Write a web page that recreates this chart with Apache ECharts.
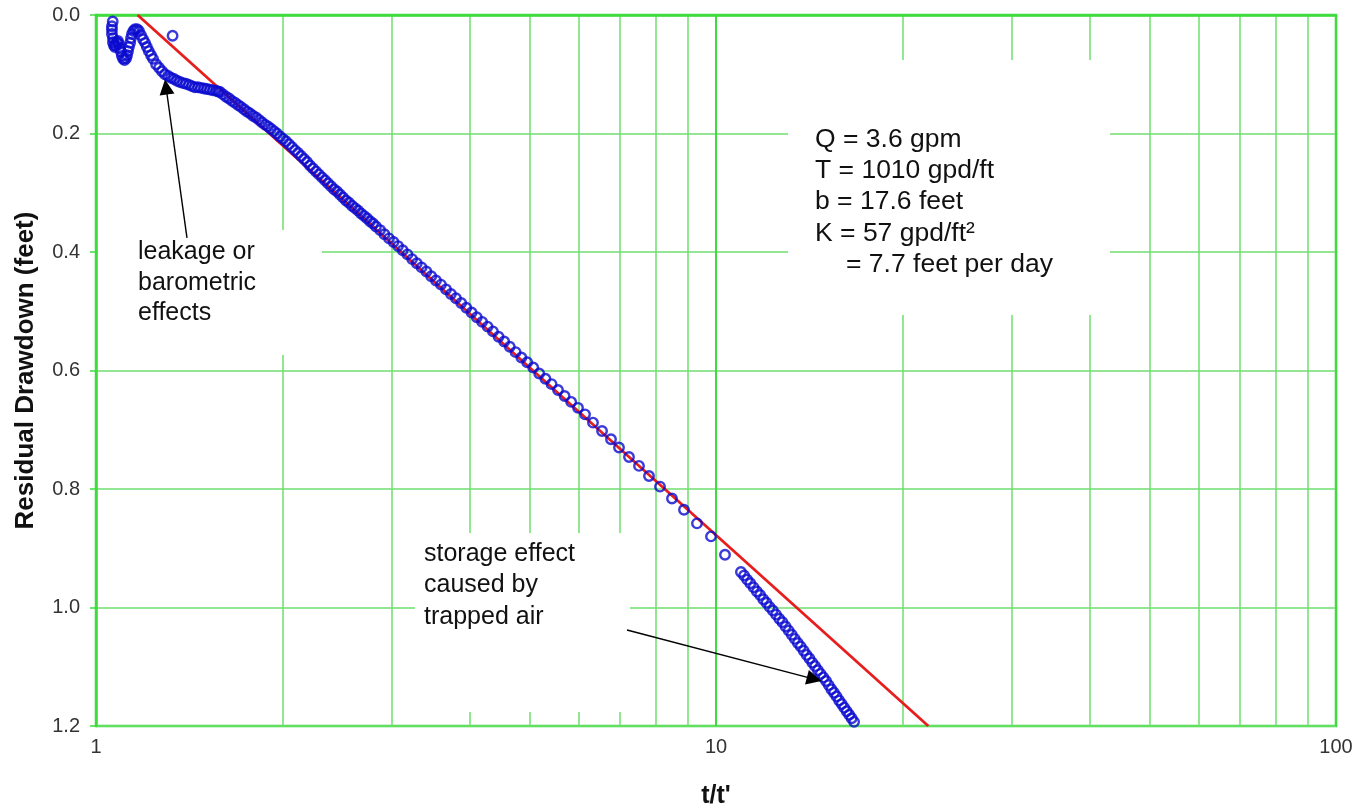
<!DOCTYPE html>
<html>
<head>
<meta charset="utf-8">
<script src="https://cdn.jsdelivr.net/npm/echarts@6/dist/echarts.min.js"></script>
<style>
html,body{margin:0;padding:0;background:#fff;}
#chart{width:1357px;height:809px;}
</style>
</head>
<body>
<div id="chart"></div>
<script>
// t/t' values of the recovery measurements
const ratio = [
1.064,1.061,1.061,1.061,1.065,1.065,1.069,1.073,1.077,1.081,1.085,1.089,1.093,1.097,1.101,1.106,1.112,1.118,1.122,1.126,1.130,1.135,1.139,1.143,1.149,1.156,1.165,1.173,1.182,1.191,1.200,1.208,1.217,1.227,1.236,1.250,1.264,1.278,1.292,1.307,1.321,1.329,1.336,1.351,1.366,1.382,1.397,1.413,1.428,1.444,1.461,1.477,1.494,1.510,1.527,1.544,1.562,1.574,
1.585,1.603,1.621,1.639,1.657,1.676,1.695,1.713,1.733,1.752,1.772,1.791,1.812,1.832,1.852,1.873,1.894,1.915,1.937,1.958,1.981,2.003,2.025,2.048,2.071,2.094,2.118,2.142,2.166,2.190,2.214,2.239,2.264,2.289,2.315,2.341,2.367,2.394,2.421,2.448,2.475,2.503,2.531,2.559,2.588,2.617,2.646,2.676,2.706,2.736,2.767,2.798,2.829,
2.872,2.919,2.969,3.019,3.070,3.124,3.179,3.235,3.292,3.351,3.411,3.473,3.535,3.601,3.669,3.737,3.807,3.882,3.957,4.035,4.113,4.196,4.282,4.368,4.460,4.554,4.649,4.751,4.854,4.960,5.072,5.186,5.307,5.430,5.561,5.699,5.840,5.990,6.148,6.333,6.549,6.771,6.975,7.239,7.513,7.797,8.123,8.492,8.879,9.318,9.816,10.340,
10.97,11.1,11.23,11.36,11.5,11.64,11.78,11.92,12.06,12.2,12.35,12.5,12.65,12.8,12.95,13.1,13.25,13.4,13.55,13.7,13.85,14.0,14.15,14.3,14.45,14.6,14.75,14.9,15.05,15.2,15.35,15.5,15.65,15.8,15.95,16.1,16.25,16.4,16.55,16.7
];
// residual drawdown (feet)
const drawdown = [
0.011,0.019,0.025,0.032,0.039,0.046,0.051,0.054,0.051,0.046,0.044,0.049,0.056,0.062,0.069,0.074,0.076,0.073,0.068,0.061,0.054,0.047,0.039,0.032,0.027,0.024,0.024,0.027,0.034,0.041,0.047,0.054,0.061,0.068,0.074,0.083,0.089,0.095,0.100,0.103,0.106,0.035,0.108,0.111,0.113,0.115,0.116,0.118,0.120,0.122,0.122,0.123,0.124,0.125,0.126,0.127,0.128,0.129,
0.130,0.134,0.138,0.141,0.145,0.148,0.152,0.155,0.159,0.163,0.166,0.170,0.173,0.177,0.181,0.185,0.188,0.192,0.196,0.200,0.205,0.209,0.213,0.218,0.223,0.228,0.233,0.238,0.243,0.248,0.254,0.259,0.264,0.269,0.274,0.279,0.284,0.289,0.294,0.298,0.303,0.308,0.313,0.317,0.322,0.326,0.330,0.335,0.339,0.343,0.348,0.352,0.357,
0.363,0.370,0.377,0.383,0.390,0.397,0.404,0.412,0.419,0.426,0.433,0.441,0.448,0.455,0.463,0.471,0.478,0.486,0.494,0.502,0.510,0.518,0.526,0.534,0.543,0.551,0.560,0.569,0.578,0.586,0.595,0.605,0.614,0.623,0.633,0.643,0.653,0.663,0.674,0.688,0.702,0.716,0.730,0.746,0.761,0.778,0.796,0.816,0.835,0.858,0.880,0.911,
0.940,0.946,0.953,0.959,0.966,0.973,0.979,0.986,0.992,0.999,1.005,1.012,1.019,1.025,1.032,1.039,1.046,1.053,1.060,1.066,1.073,1.080,1.086,1.093,1.099,1.106,1.112,1.118,1.124,1.131,1.138,1.144,1.150,1.157,1.163,1.169,1.175,1.181,1.187,1.193
];
// straight-line (Cooper-Jacob) fit
const fitRatio = [1.167, 22.0];
const fitDrawdown = [0, 1.2];
// minor log grid lines
const minorGrid = [2,3,4,5,6,7,8,9,20,30,40,50,60,70,80,90];
// annotation arrows: [from ratio, from drawdown, to ratio, to drawdown]
const arrowLeakage = [1.402, 0.376, 1.297, 0.1215];
const arrowStorage = [7.186, 1.038, 14.40, 1.121];

const FONT = '"Liberation Sans", Arial, sans-serif';
const GREEN = '#3ddc3d';
const GRIDGREEN = '#6fdf6f';

const points = ratio.map((r, i) => [r, drawdown[i]]);
const fit = fitRatio.map((r, i) => [r, fitDrawdown[i]]);

const chart = echarts.init(document.getElementById('chart'), null, {renderer: 'canvas'});
chart.setOption({
  animation: false,
  backgroundColor: '#fff',
  grid: {left: 96, right: 21, top: 15, bottom: 83, outerBoundsMode: 'none', containLabel: false,
    show: true, borderColor: GREEN, borderWidth: 2.5, backgroundColor: 'transparent'},
  xAxis: {
    type: 'log', logBase: 10, min: 1, max: 100,
    name: "t/t'", nameLocation: 'middle', nameGap: 58,
    nameTextStyle: {fontFamily: FONT, fontWeight: 'bold', fontSize: 25, color: '#111'},
    axisLine: {show: true, lineStyle: {color: GREEN, width: 2.5}},
    axisTick: {show: true, length: 5, lineStyle: {color: GREEN, width: 1.5}},
    axisLabel: {fontFamily: FONT, fontSize: 20, color: '#333', margin: 11},
    splitLine: {show: true, lineStyle: {color: GREEN, width: 2}},
    minorTick: {show: false}, minorSplitLine: {show: false}
  },
  yAxis: {
    type: 'value', inverse: true, min: 0, max: 1.2, interval: 0.2,
    name: 'Residual Drawdown (feet)', nameLocation: 'middle', nameGap: 57,
    nameTextStyle: {fontFamily: FONT, fontWeight: 'bold', fontSize: 26, color: '#111'},
    axisLine: {show: true, lineStyle: {color: GREEN, width: 2.5}},
    axisTick: {show: true, length: 6, lineStyle: {color: GREEN, width: 1.5}},
    axisLabel: {fontFamily: FONT, fontSize: 20, color: '#333', margin: 16, formatter: v => v.toFixed(1)},
    splitLine: {show: true, lineStyle: {color: GRIDGREEN, width: 1.5}}
  },
  graphic: [
    {type: 'rect', z: 1, shape: {x: 788, y: 60, width: 322, height: 255}, style: {fill: '#fff'}},
    {type: 'rect', z: 1, shape: {x: 98, y: 230, width: 224, height: 125}, style: {fill: '#fff'}},
    {type: 'rect', z: 1, shape: {x: 415, y: 533, width: 215, height: 179}, style: {fill: '#fff'}},
    {type: 'text', z: 10, x: 815, y: 124, style: {text: 'Q = 3.6 gpm\nT = 1010 gpd/ft\nb = 17.6 feet\nK = 57 gpd/ft\u00b2', fontFamily: FONT, fontSize: 26.5, lineHeight: 31.25, fill: '#111', align: 'left', verticalAlign: 'top'}},
    {type: 'text', z: 10, x: 846, y: 249, style: {text: '= 7.7 feet per day', fontFamily: FONT, fontSize: 26.5, lineHeight: 31.25, fill: '#111', align: 'left', verticalAlign: 'top'}},
    {type: 'text', z: 10, x: 138, y: 237, style: {text: 'leakage or\nbarometric\neffects', fontFamily: FONT, fontSize: 25, lineHeight: 30.5, fill: '#111', align: 'left', verticalAlign: 'top'}},
    {type: 'text', z: 10, x: 424, y: 538, style: {text: 'storage effect\ncaused by\ntrapped air', fontFamily: FONT, fontSize: 25, lineHeight: 31.5, fill: '#111', align: 'left', verticalAlign: 'top'}}
  ],
  series: [
    {
      type: 'line', z: 0, data: [[1, 0]], showSymbol: false, symbol: 'none', lineStyle: {width: 0}, silent: true,
      markLine: {z: 0, silent: true, symbol: ['none', 'none'], label: {show: false},
        lineStyle: {color: GRIDGREEN, width: 1.5, type: 'solid'},
        data: minorGrid.map(v => ({xAxis: v}))}
    },
    {
      type: 'line', z: 2, data: fit, symbol: 'none', silent: true,
      lineStyle: {color: '#e61e1e', width: 2.8}
    },
    {
      type: 'scatter', z: 3, data: points, symbol: 'circle', symbolSize: 9.5, silent: true,
      itemStyle: {color: 'rgba(0,0,0,0)', borderColor: '#0a0ad0', borderWidth: 2.4}
    },
    {
      type: 'line', z: 6, data: [[1, 0]], symbol: 'none', lineStyle: {width: 0}, silent: true,
      markLine: {z: 6, silent: true, symbol: ['none', 'triangle'], symbolSize: 15, label: {show: false},
        lineStyle: {color: '#000', width: 1.4, type: 'solid'},
        itemStyle: {color: '#000'},
        data: [
          [{coord: [arrowLeakage[0], arrowLeakage[1]]}, {coord: [arrowLeakage[2], arrowLeakage[3]]}],
          [{coord: [arrowStorage[0], arrowStorage[1]]}, {coord: [arrowStorage[2], arrowStorage[3]]}]
        ]}
    }
  ]
});
</script>
</body>
</html>
